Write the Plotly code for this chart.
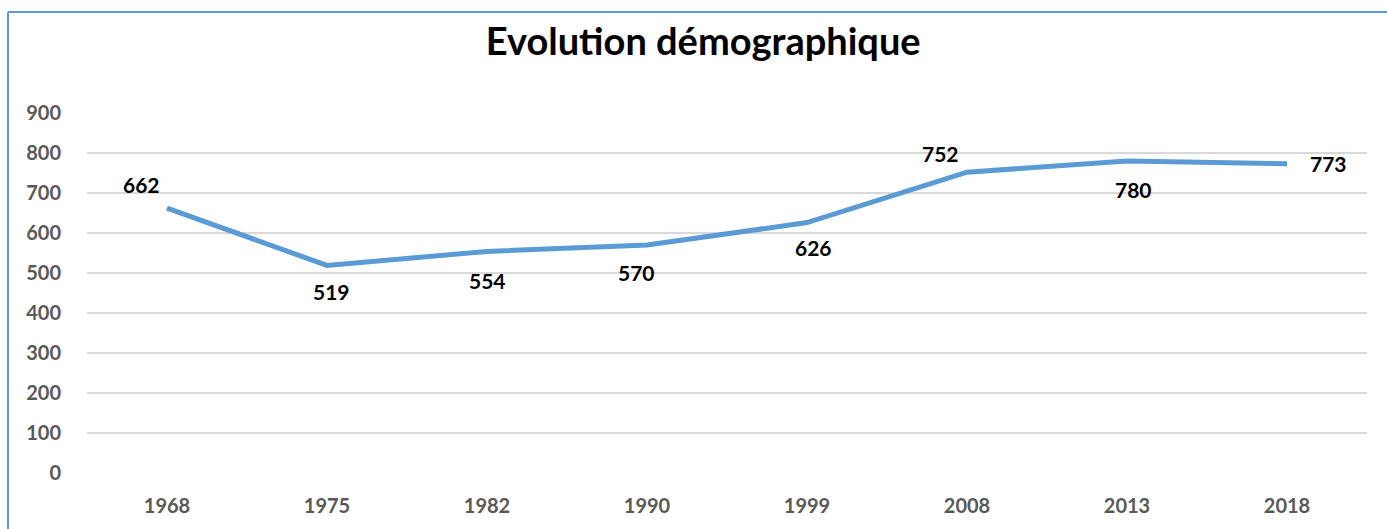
import plotly.graph_objects as go

years = ["1968", "1975", "1982", "1990", "1999", "2008", "2013", "2018"]
population = [662, 519, 554, 570, 626, 752, 780, 773]
label_shifts = [(-26, 24), (4, -26), (0, -29), (-11, -27), (6, -25), (-27, 19), (6, -28), (41, 0)]

W, H = 1387, 529
ml, mr, mt, mb = 87, 20, 113, 56
FONT = "Lato, 'Open Sans', sans-serif"

fig = go.Figure()
fig.add_trace(go.Scatter(
    x=years, y=population, mode="lines",
    line=dict(color="#5B9BD5", width=5),
    hoverinfo="x+y", showlegend=False,
))

annotations = []
for i, (y, (dx, dy)) in enumerate(zip(population, label_shifts)):
    annotations.append(dict(
        x=i, y=y, xref="x", yref="y", text=f"<b>{y}</b>", showarrow=False,
        xshift=dx, yshift=dy,
        font=dict(family=FONT, size=21, color="#000000"),
    ))

pw = W - ml - mr
ph = H - mt - mb
def px_x(p):
    return (p - ml) / pw
def px_y(p):
    return (H - mb - p) / ph

fig.update_layout(
    width=W, height=H,
    margin=dict(l=ml, r=mr, t=mt, b=mb, autoexpand=False),
    paper_bgcolor="#ffffff", plot_bgcolor="#ffffff",
    title=dict(
        text="<b>Evolution démographique</b>",
        x=0.507, xanchor="center", y=1 - 42 / H, yanchor="middle",
        font=dict(family=FONT, size=38, color="#000000"),
    ),
    xaxis=dict(
        type="category", range=[-0.5, len(years) - 0.5],
        showgrid=False, zeroline=False, showline=False,
        tickfont=dict(family=FONT, size=20, color="#595959", weight="bold"),
        ticks="", ticklabelstandoff=19,
    ),
    yaxis=dict(
        range=[0, 900], dtick=100, showgrid=True, gridcolor="#d9d9d9", gridwidth=1.5,
        zeroline=False, showline=False, ticks="",
        tickfont=dict(family=FONT, size=20, color="#595959", weight="bold"),
        ticklabelstandoff=25,
    ),
    annotations=annotations,
    shapes=[
        dict(type="line", xref="paper", yref="paper",
             x0=px_x(8), x1=px_x(W + 5), y0=px_y(12), y1=px_y(12),
             line=dict(color="#5B9BD5", width=2)),
        dict(type="line", xref="paper", yref="paper",
             x0=px_x(8), x1=px_x(8), y0=px_y(12), y1=px_y(H + 5),
             line=dict(color="#5B9BD5", width=2)),
    ],
)

fig.write_html(
    "out.html",
    config={"displayModeBar": False},
    post_script="document.body.style.margin='0';document.body.style.padding='0';",
)
